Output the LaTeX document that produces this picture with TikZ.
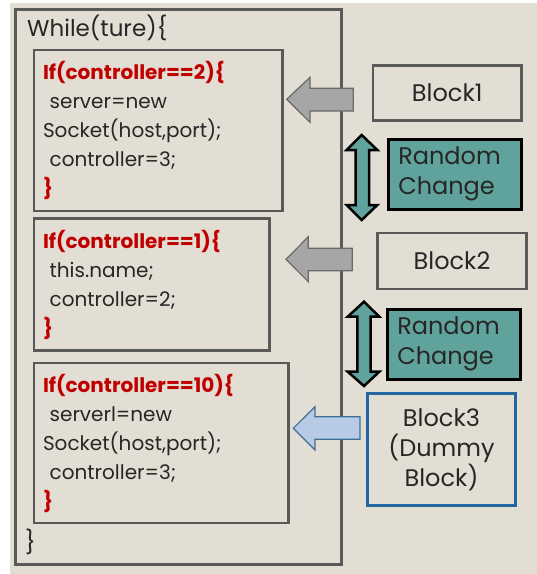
\documentclass[tikz,border=0pt]{standalone}
\usepackage{fontspec}
\setmainfont{Poppins}
\usepackage{tikz}

\definecolor{paper}{HTML}{E3DED3}
\definecolor{framegray}{HTML}{595959}
\definecolor{codered}{HTML}{C00000}
\definecolor{codeink}{HTML}{262626}
\definecolor{teal}{HTML}{5FA39C}
\definecolor{arrowgray}{HTML}{A6A6A6}
\definecolor{arrowblue}{HTML}{B7CBE6}
\definecolor{dummyblue}{HTML}{2366A0}

\begin{document}
\begin{tikzpicture}[x=1pt, y=-1pt,
    codebox/.style={draw=framegray, line width=2.5pt, align=left, inner xsep=9pt,
        inner ysep=0pt, text width=#1, text=codeink,
        font=\fontsize{20}{29}\selectfont},
    blockbox/.style={draw=framegray, line width=2.5pt, align=center, inner sep=0pt,
        text=codeink, font=\fontsize{24}{30}\selectfont},
    randbox/.style={draw=black, line width=3pt, fill=teal, align=left, inner xsep=10pt,
        inner ysep=0pt, text width=113pt, text=codeink, font=\fontsize{24}{30}\selectfont},
    grayarrow/.style={draw=framegray!90, fill=arrowgray, line width=1.2pt},
    bluearrow/.style={draw=dummyblue!70!gray, fill=arrowblue, line width=1.2pt},
    swaparrow/.style={draw=black, fill=teal, line width=2.5pt, line join=miter}]

    \useasboundingbox (0,0) rectangle (537,574);
    \fill[paper] (10,3) rectangle (537,574);

    % outer loop
    \draw[framegray, line width=3pt] (15.5,9) rectangle (341.5,564);
    \node[anchor=west, inner sep=0pt, text=codeink, font=\fontsize{23}{26}\selectfont]
        (while) at (27,28) {While(ture)\{};
    \node[anchor=west, inner sep=0pt, text=codeink, font=\fontsize{23}{26}\selectfont]
        (endwhile) at (25,542) {\}};

    % the three if blocks
    \node[codebox=230.5pt, minimum height=161pt] (if2) at (158.25,130.5)
        {{\bfseries\color{codered}If(controller==2)\{}\\
         \ server=new\\
         Socket(host,port);\\
         \ controller=3;\\
         {\bfseries\color{codered}\}}};
    \node[codebox=217.5pt, minimum height=132pt] (if1) at (151.75,284.5)
        {{\bfseries\color{codered}If(controller==1)\{}\\
         \ this.name;\\
         \ controller=2;\\
         {\bfseries\color{codered}\}}};
    \node[codebox=236.5pt, minimum height=160pt] (if10) at (161.25,443)
        {{\bfseries\color{codered}If(controller==10)\{}\\
         \ serverl=new\\
         Socket(host,port);\\
         \ controller=3;\\
         {\bfseries\color{codered}\}}};

    % blocks on the right
    \node[blockbox, minimum width=148.5pt, minimum height=55pt] (block1) at (447.25,93) {Block1};
    \node[randbox, minimum width=133.5pt, minimum height=70.5pt] (rand1) at (454.75,174.25)
        {Random\\Change};
    \node[blockbox, minimum width=149pt, minimum height=56pt] (block2) at (452,261) {Block2};
    \node[randbox, minimum width=133.5pt, minimum height=70pt] (rand2) at (453.75,344)
        {Random\\Change};
    \node[blockbox, draw=dummyblue, minimum width=148pt, minimum height=112pt] (block3)
        at (441.5,449.5) {Block3\\(Dummy\\Block)};

    % block arrows into the loop
    \draw[grayarrow] (353.3,88.3) -- (310,88.3) -- (310,77.3) -- (286.7,99.3)
        -- (310,122.3) -- (310,111) -- (353.3,111) -- cycle;
    \draw[grayarrow] (352.3,248.3) -- (308.3,248.3) -- (308.3,236.7) -- (286,259.3)
        -- (308.3,281.7) -- (308.3,270.7) -- (352.3,270.7) -- cycle;
    \draw[bluearrow] (360,416.7) -- (315,416.7) -- (315,406.7) -- (293.3,428.3)
        -- (315,450) -- (315,439.3) -- (360,439.3) -- cycle;

    % swap arrows
    \draw[swaparrow] (361.7,135) -- (377.3,150) -- (369,150) -- (369,205) -- (377.3,205)
        -- (361.7,220) -- (346.7,205) -- (355.7,205) -- (355.7,150) -- (346.7,150) -- cycle;
    \draw[swaparrow] (364,301.7) -- (379.3,316.7) -- (370.7,316.7) -- (370.7,371.7)
        -- (379.3,371.7) -- (364,386) -- (347.7,371.7) -- (357.3,371.7) -- (357.3,316.7)
        -- (347.7,316.7) -- cycle;
\end{tikzpicture}
\end{document}
